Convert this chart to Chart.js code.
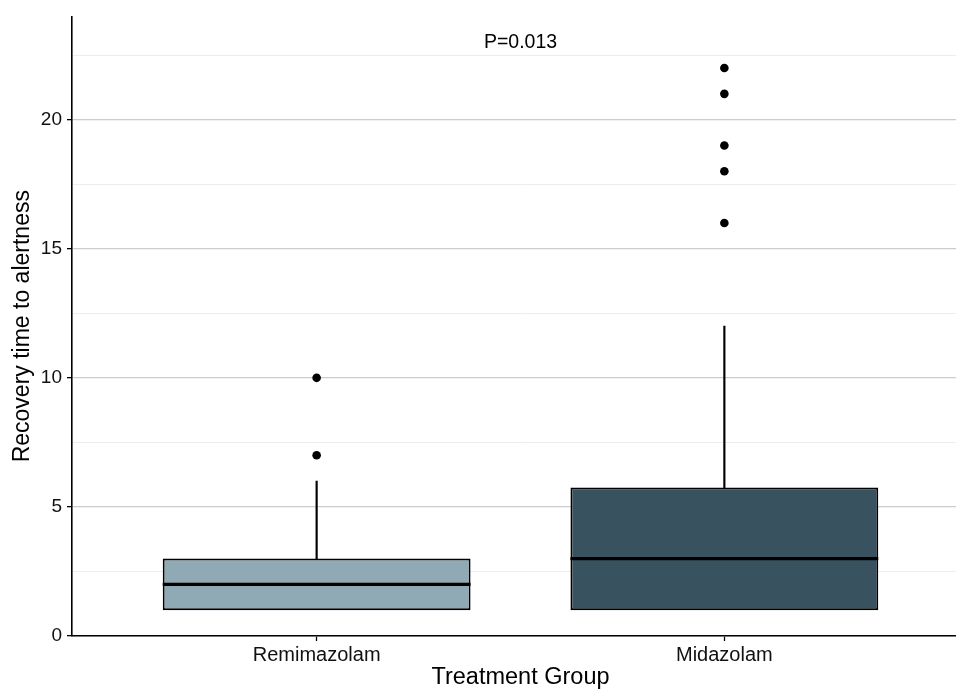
<!DOCTYPE html>
<html>
  <head>
    <title>Recovery time to alertness</title>
    <meta charset="UTF-8">
    <style>
      html, body {
        margin: 0;
        padding: 0;
        background: #ffffff;
        overflow: hidden;
      }
      /* the original panel runs a little past the right edge of the picture */
      .canvas {
        width: 969px;
        height: 690px;
        position: relative;
      }
    </style>
  </head>
  <body>
    <div class="canvas">
      <canvas id="canvas"></canvas>
    </div>
    <script src="https://cdn.jsdelivr.net/npm/chart.js@4.4.1/dist/chart.umd.min.js"></script>
    <script>
    // groups and box statistics
    var groups = ['Remimazolam', 'Midazolam'];
    var q1 = [1, 1];
    var medians = [2, 3];
    var q3 = [3, 5.75];
    var whiskerLow = [1, 1];
    var whiskerHigh = [6, 12];
    var outliersRemi = [7, 10];
    var outliersMida = [16, 18, 19, 21, 22];
    var boxColors = ['#8fa9b5', '#38535f'];
    var yTickLabels = [0, 5, 10, 15, 20];
    var pValueText = 'P=0.013';

    var FONT = '"Liberation Sans", Arial, Helvetica, sans-serif';

    // box width in x units
    var boxWidth = 0.755;

    var boxData = groups.map(function(g, i) {
        return {x: i + 1, y: [q1[i], q3[i]]};
    });
    // whiskers, skipping the ones with no length
    var whiskerData = [];
    groups.forEach(function(g, i) {
        if (whiskerHigh[i] > q3[i]) whiskerData.push({x: i + 1, y: [q3[i], whiskerHigh[i]]});
        if (whiskerLow[i] < q1[i]) whiskerData.push({x: i + 1, y: [whiskerLow[i], q1[i]]});
    });
    var medianData = groups.map(function(g, i) {
        return {x: i + 1, y: medians[i]};
    });
    var outlierData = outliersRemi.map(function(v) {
        return {x: 1, y: v};
    }).concat(outliersMida.map(function(v) {
        return {x: 2, y: v};
    }));

    // half the box width in pixels, for the median line
    function halfBox(ctx) {
        var s = ctx.chart.scales.x;
        if (!s) return 150;
        return Math.abs(s.getPixelForValue(1 + boxWidth / 2) - s.getPixelForValue(1));
    }

    var pValuePlugin = {
        id: 'pValue',
        afterDatasetsDraw: function(chart) {
            var c = chart.ctx;
            c.save();
            c.font = '19.5px ' + FONT;
            c.fillStyle = '#000000';
            c.textAlign = 'center';
            c.textBaseline = 'middle';
            c.fillText(pValueText, chart.scales.x.getPixelForValue(1.5), chart.scales.y.getPixelForValue(23));
            c.restore();
        }
    };

    var ctx = document.getElementById('canvas').getContext('2d');
    var chart = new Chart(ctx, {
        type: 'bar',
        data: {
            datasets: [
                {
                    type: 'scatter',
                    data: outlierData,
                    pointRadius: 4.3,
                    pointBackgroundColor: '#000000',
                    pointBorderWidth: 0,
                    order: 0
                },
                {
                    type: 'scatter',
                    data: medianData,
                    pointStyle: 'line',
                    pointRadius: halfBox,
                    pointBorderColor: '#000000',
                    pointBorderWidth: 3.2,
                    order: 1
                },
                {
                    type: 'bar',
                    data: boxData,
                    grouped: false,
                    backgroundColor: boxColors,
                    borderColor: '#000000',
                    borderWidth: 1.9,
                    borderSkipped: false,
                    barPercentage: boxWidth,
                    categoryPercentage: 1,
                    order: 2
                },
                {
                    type: 'bar',
                    data: whiskerData,
                    grouped: false,
                    backgroundColor: '#000000',
                    barThickness: 1.5,
                    order: 3
                }
            ]
        },
        options: {
            responsive: true,
            maintainAspectRatio: false,
            animation: false,
            events: [],
            layout: {
                autoPadding: false,
                padding: {top: 16, right: 0, bottom: 0, left: 0}
            },
            plugins: {
                legend: {display: false},
                tooltip: {enabled: false}
            },
            scales: {
                x: {
                    type: 'linear',
                    min: 0.4,
                    max: 2.6,
                    offset: false,
                    afterBuildTicks: function(scale) {
                        scale.ticks = groups.map(function(g, i) {
                            return {value: i + 1};
                        });
                    },
                    afterFit: function(scale) {
                        scale.height = 54;
                    },
                    grid: {
                        offset: false,
                        drawOnChartArea: false,
                        drawTicks: true,
                        tickLength: 5,
                        tickColor: '#000000',
                        tickWidth: 1.3
                    },
                    border: {
                        display: true,
                        color: '#000000',
                        width: 1.6
                    },
                    ticks: {
                        color: '#111111',
                        padding: 2,
                        maxRotation: 0,
                        font: {family: FONT, size: 20},
                        callback: function(value) {
                            return groups[Math.round(value) - 1];
                        }
                    },
                    title: {
                        display: true,
                        text: 'Treatment Group',
                        color: '#000000',
                        padding: {top: 0, bottom: 0},
                        font: {family: FONT, size: 23.5, lineHeight: 1.08}
                    }
                },
                y: {
                    min: 0,
                    max: 24,
                    afterBuildTicks: function(scale) {
                        // minor lines halfway between the labelled ticks
                        var t = [];
                        yTickLabels.forEach(function(v) {
                            t.push({value: v});
                            t.push({value: v + 2.5});
                        });
                        scale.ticks = t;
                    },
                    afterFit: function(scale) {
                        scale.width = 72;
                    },
                    grid: {
                        drawTicks: true,
                        tickLength: 5,
                        color: function(c) {
                            return c.tick && c.tick.value % 5 === 0 ? '#cccccc' : '#ededed';
                        },
                        lineWidth: function(c) {
                            return c.tick && c.tick.value % 5 === 0 ? 1.3 : 1;
                        },
                        tickColor: function(c) {
                            return c.tick && c.tick.value % 5 === 0 ? '#000000' : 'rgba(0,0,0,0)';
                        },
                        tickWidth: 1.3
                    },
                    border: {
                        display: true,
                        color: '#000000',
                        width: 1.6
                    },
                    ticks: {
                        color: '#111111',
                        padding: 5,
                        font: {family: FONT, size: 19},
                        callback: function(value) {
                            return value % 5 === 0 ? value : '';
                        }
                    },
                    title: {
                        display: true,
                        text: 'Recovery time to alertness',
                        color: '#000000',
                        padding: {top: 9, bottom: 0},
                        font: {family: FONT, size: 23}
                    }
                }
            }
        },
        plugins: [pValuePlugin]
    });
    </script>
  </body>
</html>
